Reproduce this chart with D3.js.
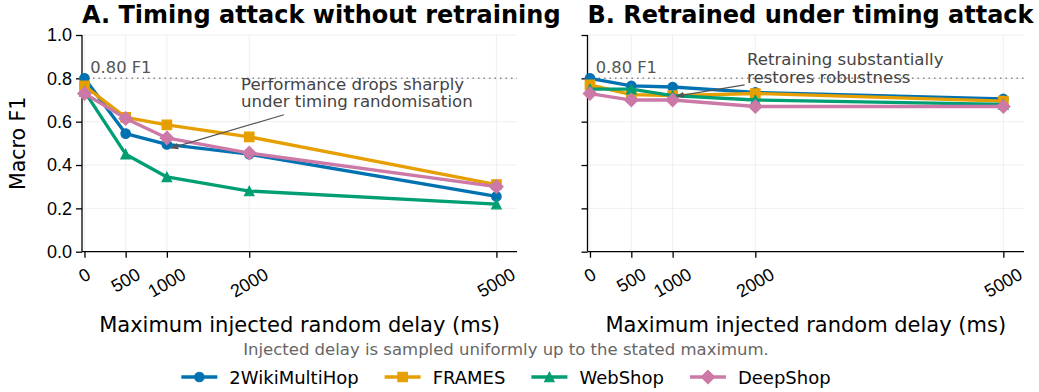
<!DOCTYPE html>
<html lang="en">
<head>
<meta charset="UTF-8">
<title>Timing attack robustness</title>
<script src="https://cdn.jsdelivr.net/npm/d3@7/dist/d3.min.js"></script>
<style>
    body{
        margin: 0;
        background: #fff;
        font-family: "DejaVu Sans", sans-serif;
    }
    .grid line{
        stroke: #ebebeb;
        stroke-width: 0.8;
    }
    .axis path, .axis line{
        stroke: #000;
        stroke-width: 1.3;
    }
    .axis text{
        font-size: 18px;
        fill: #000;
    }
</style>
</head>
<body>
<svg id="main" width="1039" height="392"></svg>
<script>
    // data
    const delays = [0, 500, 1000, 2000, 5000];
    const datasets = ["2WikiMultiHop", "FRAMES", "WebShop", "DeepShop"];
    const colors = ["#0072B2", "#E69F00", "#009E73", "#CC79A7"];
    const markers = ["circle", "square", "triangle", "diamond"];

    // A. without retraining
    const noRetrain2Wiki = [0.80, 0.545, 0.495, 0.45, 0.255];
    const noRetrainFrames = [0.765, 0.62, 0.585, 0.53, 0.31];
    const noRetrainWebShop = [0.74, 0.45, 0.345, 0.28, 0.22];
    const noRetrainDeepShop = [0.73, 0.615, 0.525, 0.455, 0.30];

    // B. retrained
    const retrain2Wiki = [0.80, 0.765, 0.76, 0.735, 0.705];
    const retrainFrames = [0.77, 0.725, 0.72, 0.73, 0.695];
    const retrainWebShop = [0.75, 0.75, 0.72, 0.70, 0.68];
    const retrainDeepShop = [0.73, 0.70, 0.70, 0.67, 0.67];

    const yTicks = [0, 0.2, 0.4, 0.6, 0.8, 1.0];
    const threshold = 0.8;

    const panels = [
        {title: "A. Timing attack without retraining",
         series: [noRetrain2Wiki, noRetrainFrames, noRetrainWebShop, noRetrainDeepShop],
         left: 82, right: 517,
         note: ["Performance drops sharply", "under timing randomisation"],
         noteAt: [1900, 0.775], arrowFrom: [2420, 0.632], arrowTo: [1050, 0.478]},
        {title: "B. Retrained under timing attack",
         series: [retrain2Wiki, retrainFrames, retrainWebShop, retrainDeepShop],
         left: 587.5, right: 1024,
         note: ["Retraining substantially", "restores robustness"],
         noteAt: [1900, 0.888], arrowFrom: [1870, 0.77], arrowTo: [1050, 0.718]}
    ];

    const plotTop = 35, plotBottom = 251.7;
    const markSize = 9.5;
    const svg = d3.select("#main");

    svg.append("defs").append("marker")
        .attr("id", "head")
        .attr("viewBox", "0 0 10 10")
        .attr("refX", 9).attr("refY", 5)
        .attr("markerWidth", 8).attr("markerHeight", 8)
        .attr("markerUnits", "userSpaceOnUse")
        .attr("orient", "auto")
        .append("path")
        .attr("d", "M0,1L10,5L0,9Z")
        .attr("fill", "#555");

    function markerPath(type, s){
        const h = s / 2;
        if(type === "circle") return d3.symbol(d3.symbolCircle, Math.PI * h * h)();
        if(type === "square") return `M${-h},${-h}H${h}V${h}H${-h}Z`;
        if(type === "triangle") return `M0,${-h}L${h},${h}L${-h},${h}Z`;
        const d = s * 0.7;
        return `M0,${-d}L${d},0L0,${d}L${-d},0Z`;
    }

    panels.forEach((p, pi) => {
        const x = d3.scaleLinear().domain([-30, 5250]).range([p.left, p.right]);
        const y = d3.scaleLinear().domain([0, 1]).range([plotBottom, plotTop]);
        const g = svg.append("g");

        // grid
        const grid = g.append("g").attr("class", "grid");
        grid.selectAll(".gx").data(delays).join("line")
            .attr("class", "gx")
            .attr("x1", d => x(d)).attr("x2", d => x(d))
            .attr("y1", plotTop).attr("y2", plotBottom);
        grid.selectAll(".gy").data(yTicks).join("line")
            .attr("class", "gy")
            .attr("x1", p.left).attr("x2", p.right)
            .attr("y1", d => y(d)).attr("y2", d => y(d));

        // threshold line
        g.append("line")
            .attr("x1", p.left).attr("x2", p.right)
            .attr("y1", y(threshold)).attr("y2", y(threshold))
            .attr("stroke", "#888").attr("stroke-width", 1.5)
            .attr("stroke-dasharray", "1.5,4");
        g.append("text")
            .attr("x", x(70)).attr("y", y(0.825))
            .attr("font-size", 16.3).attr("fill", "#555")
            .text(threshold.toFixed(2) + " F1");

        // axes
        const yAxis = d3.axisLeft(y).tickValues(yTicks).tickSize(6).tickPadding(4)
            .tickFormat(pi === 0 ? d3.format(".1f") : () => "");
        g.append("g").attr("class", "axis")
            .attr("transform", `translate(${p.left},0)`)
            .call(yAxis)
            .call(a => a.select(".domain").attr("d", `M0,${plotTop}V${plotBottom}`));

        const xAxis = d3.axisBottom(x).tickValues(delays).tickSize(6).tickFormat("");
        const xa = g.append("g").attr("class", "axis")
            .attr("transform", `translate(0,${plotBottom})`)
            .call(xAxis)
            .call(a => a.select(".domain").attr("d", `M${p.left},0H${p.right}`));

        // rotated tick labels, centred under the tick
        delays.forEach(d => {
            const t = xa.append("text")
                .attr("text-anchor", "middle")
                .attr("dominant-baseline", "central")
                .attr("font-size", 18)
                .text(d);
            const w = t.node().getComputedTextLength();
            const h = 18 * 1.16;
            const rh = w * 0.5 + h * 0.866;
            t.attr("transform", `translate(${x(d)},${6 + 6 + rh / 2}) rotate(-30)`);
        });

        // lines and markers
        const line = d3.line().x((_, i) => x(delays[i])).y(v => y(v));
        p.series.forEach((vals, si) => {
            g.append("path")
                .attr("d", line(vals))
                .attr("fill", "none")
                .attr("stroke", colors[si])
                .attr("stroke-width", 3.3)
                .attr("stroke-linejoin", "round");
            g.selectAll(null).data(vals).join("path")
                .attr("transform", (v, i) => `translate(${x(delays[i])},${y(v)})`)
                .attr("d", markerPath(markers[si], markSize))
                .attr("fill", colors[si])
                .attr("stroke", colors[si])
                .attr("stroke-width", 1.2);
        });

        // annotation
        g.append("path")
            .attr("d", `M${x(p.arrowFrom[0])},${y(p.arrowFrom[1])}L${x(p.arrowTo[0])},${y(p.arrowTo[1])}`)
            .attr("stroke", "#555").attr("stroke-width", 1.2)
            .attr("fill", "none")
            .attr("marker-end", "url(#head)");
        g.append("text")
            .attr("x", x(p.noteAt[0])).attr("y", y(p.noteAt[1]))
            .attr("font-size", 16.6).attr("fill", "#444")
            .selectAll("tspan").data(p.note).join("tspan")
            .attr("x", x(p.noteAt[0]))
            .attr("dy", (_, i) => i === 0 ? "0.35em" : 17.5)
            .text(d => d);

        // title
        g.append("text")
            .attr("x", p.left).attr("y", 23)
            .attr("font-size", 24).attr("font-weight", "bold")
            .text(p.title);

        // x label
        g.append("text")
            .attr("x", (p.left + p.right) / 2).attr("y", 332)
            .attr("text-anchor", "middle").attr("font-size", 21)
            .text("Maximum injected random delay (ms)");
    });

    // y label
    svg.append("text")
        .attr("transform", `translate(25,${(plotTop + plotBottom) / 2}) rotate(-90)`)
        .attr("text-anchor", "middle").attr("font-size", 20.5)
        .text("Macro F1");

    // caption
    svg.append("text")
        .attr("x", 506).attr("y", 355)
        .attr("text-anchor", "middle").attr("font-size", 16.5).attr("fill", "#666")
        .text("Injected delay is sampled uniformly up to the stated maximum.");

    // legend
    const legend = svg.append("g");
    let lx = 0;
    datasets.forEach((name, i) => {
        const it = legend.append("g").attr("transform", `translate(${lx},0)`);
        it.append("line").attr("x1", 0).attr("x2", 36).attr("y1", 0).attr("y2", 0)
            .attr("stroke", colors[i]).attr("stroke-width", 3.3);
        it.append("path").attr("transform", "translate(18,0)")
            .attr("d", markerPath(markers[i], markSize))
            .attr("fill", colors[i]).attr("stroke", colors[i]).attr("stroke-width", 1.2);
        const t = it.append("text").attr("x", 48).attr("y", 7)
            .attr("font-size", 18).text(name);
        lx += 48 + t.node().getComputedTextLength() + 26;
    });
    const legendWidth = lx - 26;
    legend.attr("transform", `translate(${506 - legendWidth / 2},377)`);
</script>
</body>
</html>
